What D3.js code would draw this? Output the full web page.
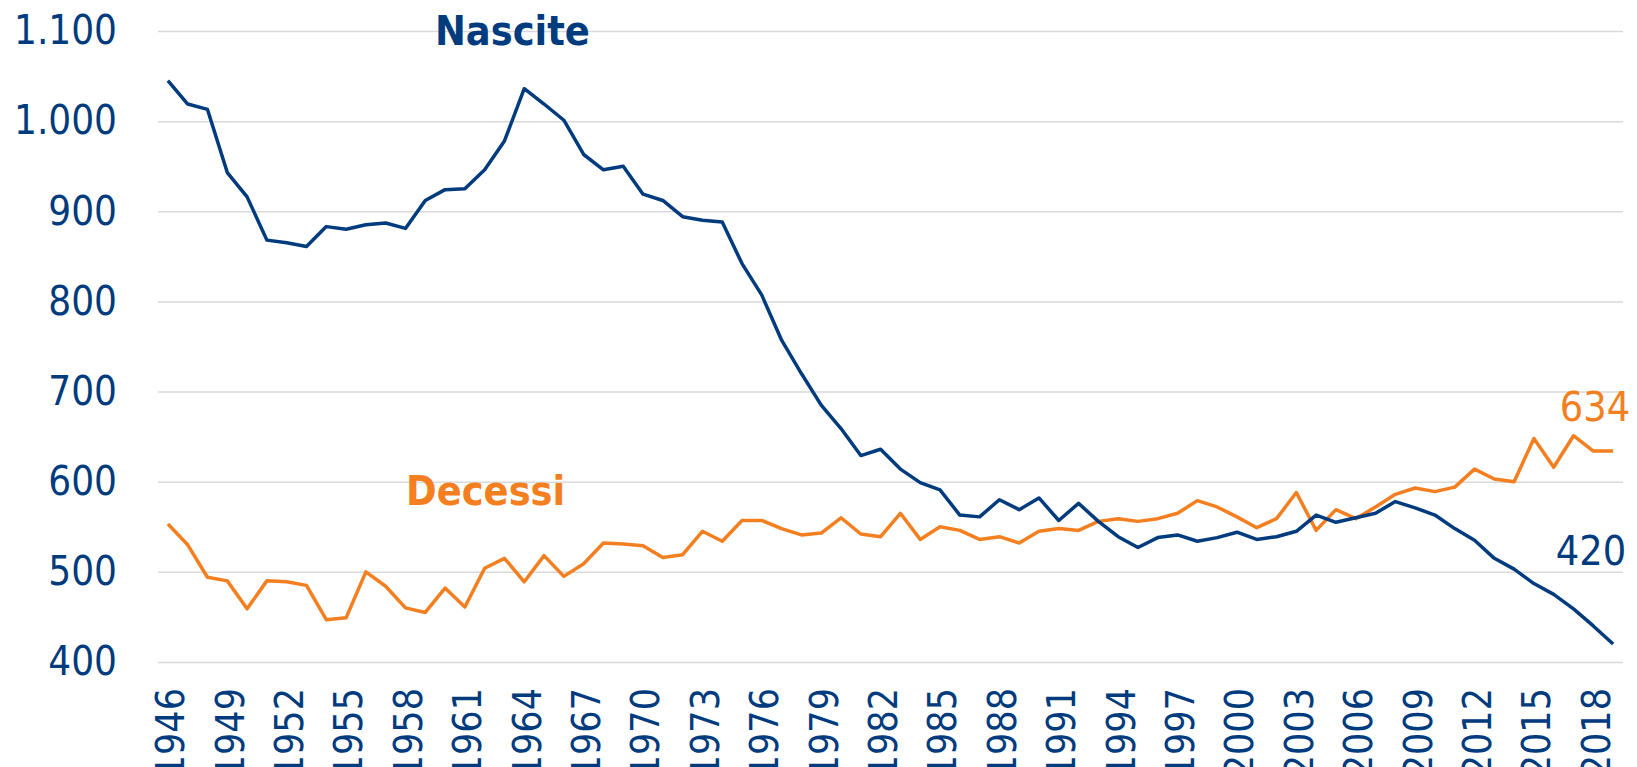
<!DOCTYPE html>
<html>
<head>
<meta charset="utf-8">
<script src="https://cdn.jsdelivr.net/npm/d3@7"></script>
<style>
  html, body { margin: 0; padding: 0; background: #fff; overflow: hidden; }
  .cond { font-family: "DejaVu Sans Condensed", "DejaVu Sans", sans-serif; font-stretch: condensed; }
</style>
</head>
<body>
<div id="container"></div>
<script>
/* ---------- DATA (migliaia) ---------- */
const years = d3.range(1946, 2020);

const nascite = [
  1045, 1019, 1013, 943, 916, 868, 865, 861, 883, 880,
  885, 887, 881, 912, 924, 925, 946, 978, 1036, 1019,
  1001, 963, 946, 950, 919, 912, 894, 890, 888, 842,
  807, 757, 720, 685, 659, 629, 636, 614, 599, 591,
  563, 561, 580, 569, 582, 557, 576, 556, 539, 527,
  538, 541, 534, 538, 544, 536, 539, 545, 563, 555,
  560, 565, 578, 571, 563, 548, 535, 515, 503, 487,
  475, 459, 440, 420
];

const decessi = [
  553, 530, 494, 490, 459, 490, 489, 485, 447, 449,
  500, 484, 460, 455, 482, 461, 504, 515, 489, 518,
  495, 509, 532, 531, 529, 516, 519, 545, 534, 557,
  557, 548, 541, 543, 560, 542, 539, 565, 536, 550,
  546, 536, 539, 532, 545, 548, 546, 556, 559, 556,
  559, 565, 579, 572, 561, 549, 559, 588, 546, 569,
  559, 572, 586, 593, 589, 594, 614, 603, 600, 648,
  616, 651, 634, 634
];

const yTicks = [400, 500, 600, 700, 800, 900, 1000, 1100];
const xTickYears = years.filter((d, i) => i % 3 === 0);

const blue = "#003b7e",
  orange = "#f47f20";

/* ---------- LAYOUT ---------- */
const width = 1637,
  height = 767,
  margin = { top: 31, left: 158, right: 14, bottom: 105 };

const svg = d3.select("#container")
  .append("svg")
  .attr("width", width)
  .attr("height", height);

// scales
const xScale = d3.scaleBand()
  .domain(years)
  .range([margin.left, width - margin.right]);

const yScale = d3.scaleLinear()
  .domain([400, 1100])
  .range([height - margin.bottom, margin.top]);

const cx = d => xScale(d) + xScale.bandwidth() / 2;

const itFormat = d3.formatLocale({
  decimal: ",", thousands: ".", grouping: [3], currency: ["€", ""]
}).format(",");

// y axis + gridlines
const yAxis = d3.axisLeft(yScale)
  .tickValues(yTicks)
  .tickFormat(itFormat)
  .tickSize(-(width - margin.left - margin.right))
  .tickPadding(41);

svg.append("g")
  .attr("transform", `translate(${margin.left},0)`)
  .call(yAxis)
  .call(g => g.select(".domain").remove())
  .call(g => g.selectAll("line").attr("stroke", "#d9d9d9").attr("stroke-width", 1.5))
  .call(g => g.selectAll("text")
    .attr("class", "cond")
    .attr("fill", blue)
    .style("font-size", "40px"));

// x axis (rotated labels)
const xAxis = d3.axisBottom(xScale)
  .tickValues(xTickYears)
  .tickSize(0);

svg.append("g")
  .attr("transform", `translate(0,${height - margin.bottom})`)
  .call(xAxis)
  .call(g => g.select(".domain").remove())
  .call(g => g.selectAll("text")
    .attr("class", "cond")
    .attr("fill", blue)
    .style("font-size", "39px")
    .attr("transform", "rotate(-90)")
    .attr("y", 0)
    .attr("x", -26)
    .attr("dy", "0.42em")
    .style("text-anchor", "end"));

// lines
const line = d3.line()
  .x((d, i) => cx(years[i]))
  .y(d => yScale(d));

svg.append("path")
  .datum(decessi)
  .attr("d", line)
  .attr("fill", "none")
  .attr("stroke", orange)
  .attr("stroke-width", 3.5)
  .attr("stroke-linejoin", "round");

svg.append("path")
  .datum(nascite)
  .attr("d", line)
  .attr("fill", "none")
  .attr("stroke", blue)
  .attr("stroke-width", 3.5)
  .attr("stroke-linejoin", "round");

// series labels
svg.append("text")
  .attr("class", "cond")
  .attr("x", cx(1963) + 8)
  .attr("y", yScale(1085))
  .attr("text-anchor", "middle")
  .attr("fill", blue)
  .style("font-size", "41px")
  .style("font-weight", "bold")
  .text("Nascite");

svg.append("text")
  .attr("class", "cond")
  .attr("x", cx(1962) + 1)
  .attr("y", yScale(574))
  .attr("text-anchor", "middle")
  .attr("fill", orange)
  .style("font-size", "41px")
  .style("font-weight", "bold")
  .text("Decessi");

// last values
const last = years.length - 1;

svg.append("text")
  .attr("class", "cond")
  .attr("x", cx(years[last]) + 17)
  .attr("y", yScale(decessi[last]) - 30)
  .attr("text-anchor", "end")
  .attr("fill", orange)
  .style("font-size", "41px")
  .text(decessi[last]);

svg.append("text")
  .attr("class", "cond")
  .attr("x", cx(years[last]) + 13)
  .attr("y", yScale(nascite[last]) - 79)
  .attr("text-anchor", "end")
  .attr("fill", blue)
  .style("font-size", "41px")
  .text(nascite[last]);
</script>
</body>
</html>
